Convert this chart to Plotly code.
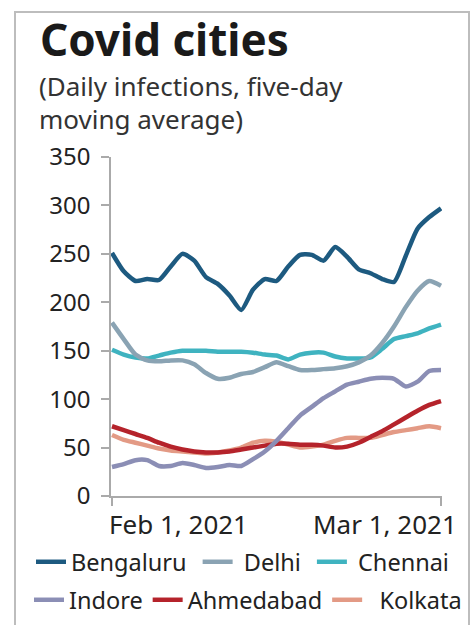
import pandas as pd
import plotly.graph_objects as go

# Daily infections, five-day moving average, Feb 1 - Mar 1, 2021
dates = pd.date_range("2021-02-01", "2021-03-01", freq="D")

bengaluru = [251, 232, 222, 224, 223, 237, 250, 243, 226, 219, 207, 192, 213, 224, 222,
             237, 249, 249, 243, 257, 247, 234, 230, 224, 221, 248, 276, 288, 297]
delhi = [179, 162, 146, 140, 139, 140, 140, 136, 127, 121, 122, 126, 128, 133, 138,
         134, 130, 130, 131, 132, 134, 138, 145, 158, 175, 195, 212, 222, 217]
chennai = [151, 146, 143, 142, 145, 148, 150, 150, 150, 149, 149, 149, 148, 146, 145,
           141, 146, 148, 148, 144, 142, 142, 143, 152, 162, 165, 168, 173, 177]
indore = [30, 33, 37, 37, 31, 31, 34, 32, 29, 30, 32, 31, 38, 46, 57,
          70, 83, 92, 101, 108, 115, 118, 121, 122, 121, 113, 118, 129, 130]
ahmedabad = [72, 68, 64, 60, 55, 51, 48, 46, 45, 45, 46, 48, 50, 52, 54,
             54, 53, 53, 52, 50, 51, 55, 61, 67, 74, 81, 88, 94, 98]
kolkata = [63, 58, 55, 52, 49, 47, 46, 45, 44, 45, 47, 50, 55, 57, 56,
           53, 50, 51, 53, 57, 60, 60, 60, 63, 66, 68, 70, 72, 70]

y_ticks = [0, 50, 100, 150, 200, 250, 300, 350]

NB = "\u00a0"  # non-breaking space used to pad legend entries
series = [
    ("Bengaluru", bengaluru, "#1d5a80", "legend", "", NB),
    ("Delhi", delhi, "#8aa3b3", "legend", NB, NB),
    ("Chennai", chennai, "#3fb3c0", "legend", NB, ""),
    ("Indore", indore, "#8b8eb5", "legend2", "", ""),
    ("Ahmedabad", ahmedabad, "#b5232b", "legend2", "", ""),
    ("Kolkata", kolkata, "#e39a85", "legend2", NB + NB, ""),
]

FONT = "Noto Sans"
TEXT = "#222222"

# figure geometry (pixels) used to place items outside the plot area
W, H = 476, 625
L, R, T, B = 111, 34, 157, 129
PW, PH = W - L - R, H - T - B


def px(xp):
    return (xp - L) / PW


def py(yp):
    return (H - B - yp) / PH


fig = go.Figure()
# draw lower series first so the dark Bengaluru line stays on top
for name, vals, color, leg, pre, post in reversed(series):
    fig.add_trace(go.Scatter(
        x=dates, y=vals, name=pre + name + post, mode="lines",
        line=dict(color=color, width=4.5, shape="spline", smoothing=0.6),
        legend=leg,
    ))

legend_style = dict(
    orientation="h", xanchor="left", yanchor="top",
    font=dict(size=23.5, family=FONT, color=TEXT), traceorder="reversed",
    itemwidth=30, tracegroupgap=0, bgcolor="rgba(0,0,0,0)",
)

fig.update_layout(
    width=W, height=H,
    margin=dict(l=L, r=R, t=T, b=B, autoexpand=False),
    paper_bgcolor="white", plot_bgcolor="white",
    font=dict(family=FONT, color=TEXT, size=22),
    showlegend=True,
    legend=dict(x=px(31), y=py(540), **legend_style),
    legend2=dict(x=px(29), y=py(578), **legend_style),
)

fig.update_xaxes(
    range=[dates[0] - pd.Timedelta(hours=2), dates[-1] + pd.Timedelta(hours=2)],
    tickvals=[dates[0], dates[-1]], showticklabels=False,
    ticks="outside", ticklen=8, tickcolor="#aaaaaa", tickwidth=1.5,
    showline=True, linecolor="#aaaaaa", linewidth=1.5,
    showgrid=False, zeroline=False,
)
fig.update_yaxes(
    range=[0, 350], tickvals=y_ticks,
    ticks="outside", ticklen=8, tickcolor="#aaaaaa", tickwidth=1.5,
    showline=True, linecolor="#aaaaaa", linewidth=1.5,
    tickfont=dict(size=24, family=FONT, color=TEXT), ticklabelstandoff=6,
    showgrid=False, zeroline=False,
)

# x-axis date labels, left-aligned at the first tick and right-aligned at the last
for d, anchor, shift, label in [(dates[0], "left", -5, "Feb 1, 2021"),
                                (dates[-1], "right", 18, "Mar 1, 2021")]:
    fig.add_annotation(x=d, y=0, xref="x", yref="y", text=label,
                       showarrow=False, xanchor=anchor, yanchor="top",
                       yshift=-8, xshift=shift,
                       font=dict(size=26, family=FONT, color=TEXT))

# title and subtitle
fig.add_annotation(x=px(39), y=py(39), xref="paper", yref="paper",
                   text="<b>Covid cities</b>", borderpad=0,
                   showarrow=False, xanchor="left", yanchor="middle",
                   font=dict(size=44, family=FONT, color="#1a1a1a"))
for yy, line in [(86, "(Daily infections, five-day"), (119, "moving average)")]:
    fig.add_annotation(x=px(38), y=py(yy), xref="paper", yref="paper", text=line,
                       borderpad=0,
                       showarrow=False, xanchor="left", yanchor="middle",
                       font=dict(size=26, family=FONT, color="#333333"))

# card frame
fig.add_shape(type="rect", xref="paper", yref="paper",
              x0=px(15), x1=px(469), y0=py(640), y1=py(12),
              line=dict(color="#bdbdbd", width=2), fillcolor="rgba(0,0,0,0)",
              layer="below")

fig.write_html("out.html")
